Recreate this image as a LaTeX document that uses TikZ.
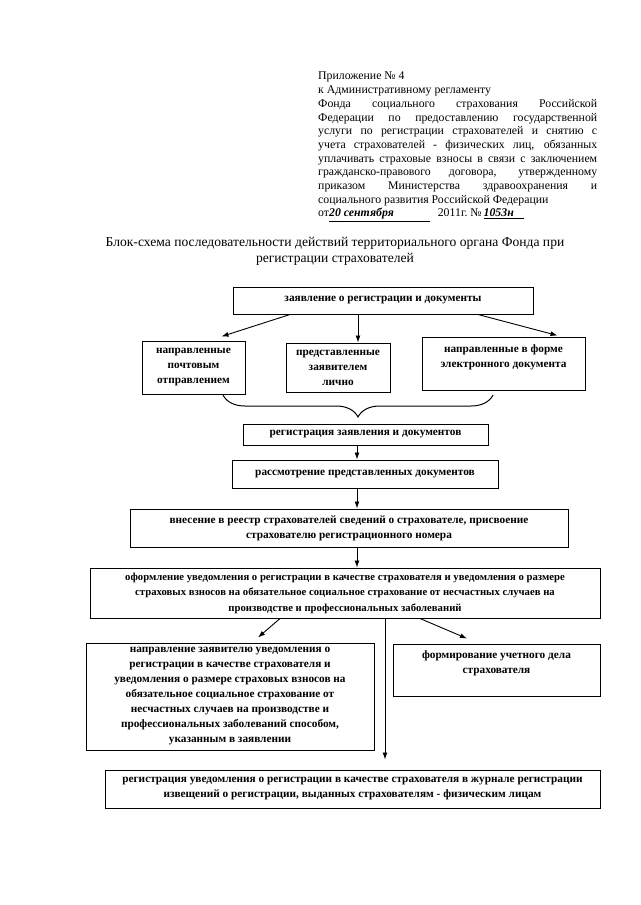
\documentclass[tikz,border=0pt]{standalone}
\usepackage{fontspec}
\setmainfont{Liberation Serif}
\usetikzlibrary{arrows.meta,positioning,calc,decorations.pathreplacing}

\begin{document}
\begin{tikzpicture}[x=1pt,y=-1pt,every node/.style={font=\fontsize{11.3}{15}\selectfont\bfseries},
  box/.style={draw,line width=1pt,align=center,inner sep=1pt},
  arr/.style={-{Latex[length=7pt,width=5pt]},line width=0.9pt}]
  \useasboundingbox (0,0) rectangle (640,905);
  \fill[white] (0,0) rectangle (640,905);
  % header and title
  \node[anchor=north west,text width=279pt,align=justify,inner sep=0pt,
        font=\fontsize{11.8}{13.7}\selectfont] (prilozh) at (318,72)
    {Приложение № 4\\
     к Административному регламенту\\
     Фонда социального страхования Российской\linebreak
     Федерации по предоставлению государственной\linebreak
     услуги по регистрации страхователей и снятию с\linebreak
     учета страхователей - физических лиц, обязанных\linebreak
     уплачивать страховые взносы в связи с заключением\linebreak
     гражданско-правового договора, утвержденному\linebreak
     приказом Министерства здравоохранения и\linebreak
     социального развития Российской Федерации\\
     от\underline{\textit{\textbf{20 сентября}}\hspace{36pt}}\hspace{8pt}2011г.~№\hspace{2pt}\underline{\textit{\textbf{1053н}}\hspace{10pt}}};
  \node[font=\fontsize{13.6}{16}\selectfont,align=center] (title) at (335,251)
    {Блок-схема последовательности действий территориального органа Фонда при\\
     регистрации страхователей};
  % boxes
  \node[box,minimum width=300pt,minimum height=27pt] (zayav) at (383,300.5)
    {заявление о регистрации и документы};
  \node[box,minimum width=103pt,minimum height=53pt] (pocht) at (193.5,367.5)
    {направленные\\ почтовым\\ отправлением};
  \node[box,minimum width=104pt,minimum height=49pt] (lichno) at (338,367.5)
    {представленные\\ заявителем\\ лично};
  \node[box,minimum width=163pt,minimum height=53pt] (elektr) at (503.5,363.5)
    {направленные в форме\\ электронного документа\\ \mbox{}};
  \coordinate (braceL) at (223,395);
  \coordinate (braceR) at (493,395);
  \node[box,minimum width=245pt,minimum height=21pt] (regz) at (365.5,434.5)
    {регистрация заявления и документов};
  \node[box,minimum width=266pt,minimum height=28pt] (rassm) at (365,474)
    {рассмотрение представленных документов};
  \node[box,minimum width=438pt,minimum height=38pt] (vnes) at (349,528)
    {внесение в реестр страхователей сведений о страхователе, присвоение\\
     страхователю регистрационного номера};
  \node[box,minimum width=510pt,minimum height=50pt,font=\fontsize{10.7}{15.5}\selectfont\bfseries]
    (oform) at (345,593)
    {оформление уведомления о регистрации в качестве страхователя и уведомления о размере\\
     страховых взносов на обязательное социальное страхование от несчастных случаев на\\
     производстве и профессиональных заболеваний};
  \node[box,minimum width=288pt,minimum height=107pt] (naprav) at (230,696.5)
    {направление заявителю уведомления о\\ регистрации в качестве страхователя и\\
     уведомления о размере страховых взносов на\\ обязательное социальное страхование от\\
     несчастных случаев на производстве и\\ профессиональных заболеваний способом,\\
     указанным в заявлении};
  \node[box,minimum width=207pt,minimum height=52pt] (formir) at (496.5,670)
    {формирование учетного дела\\ страхователя\\ \mbox{}};
  \node[box,minimum width=495pt,minimum height=38pt] (zhurn) at (352.5,789)
    {регистрация уведомления о регистрации в качестве страхователя в журнале регистрации\\
     извещений о регистрации, выданных страхователям - физическим лицам};
  % connectors
  \draw[arr] ([xshift=-93pt]zayav.south) -- ([xshift=28pt,yshift=4pt]pocht.north);
  \draw[arr] ([xshift=-25pt]zayav.south) -- ([xshift=-25pt]zayav.south |- lichno.north);
  \draw[arr] ([xshift=95pt]zayav.south) -- ([xshift=54pt,yshift=1pt]elektr.north);
  \draw[line width=1pt,decorate,decoration={brace,mirror,amplitude=22pt}] (braceL) -- (braceR);
  \draw[arr] ([xshift=-8.5pt]regz.south) -- ([xshift=-8.5pt]regz.south |- rassm.north);
  \draw[arr] ([xshift=-8pt]rassm.south) -- ([xshift=-8pt]rassm.south |- vnes.north);
  \draw[arr] ([xshift=8pt]vnes.south) -- ([xshift=8pt]vnes.south |- oform.north);
  \draw[arr] ([xshift=-65pt]oform.south) -- ([xshift=28pt,yshift=5pt]naprav.north);
  \draw[arr] ([xshift=75pt]oform.south) -- ([xshift=-29.5pt,yshift=5pt]formir.north);
  \draw[arr,shorten >=10pt] ([xshift=40pt]oform.south) -- ([xshift=40pt]oform.south |- zhurn.north);
\end{tikzpicture}
\end{document}
